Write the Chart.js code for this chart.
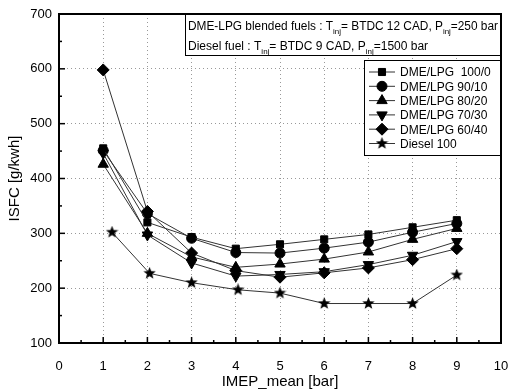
<!DOCTYPE html>
<html>
<head>
<meta charset="utf-8">
<script src="https://cdn.jsdelivr.net/npm/chart.js@4.4.1/dist/chart.umd.min.js"></script>
<style>
  html,body{margin:0;padding:0;background:#fff;}
  #wrap{width:508px;height:391px;position:relative;}
</style>
</head>
<body>
<div id="wrap"><canvas id="c"></canvas></div>
<script>
// values
const xDme = [1, 2, 3, 4, 5, 6, 7, 8, 9]
const xDiesel = [1.2, 2.05, 3, 4.05, 5, 6, 7, 8, 9]
const dme100 = [455, 320, 293, 272, 280, 289, 298, 311, 324]
const dme90 = [451, 336, 291, 265, 264, 273, 284, 302, 318]
const dme80 = [426, 300, 257, 238, 244, 253, 266, 289, 309]
const dme70 = [446, 297, 246, 222, 225, 230, 243, 260, 285]
const dme60 = [598, 340, 264, 232, 220, 228, 237, 252, 272]
const diesel100 = [302, 227, 210, 197, 191, 172, 172, 172, 224]
const xTicks = [0, 1, 2, 3, 4, 5, 6, 7, 8, 9, 10]
const yTicks = [100, 200, 300, 400, 500, 600, 700]

const FONT = '"Liberation Sans", Arial, sans-serif'

function starCanvas(size){
  const cv=document.createElement('canvas')
  cv.width=size;cv.height=size
  const g=cv.getContext('2d')
  const cx=size/2, cy=size/2, R=size/2, r=R*0.42
  g.beginPath()
  for(let i=0;i<10;i++){
    const a=-Math.PI/2+i*Math.PI/5
    const rr=i%2?r:R
    g.lineTo(cx+rr*Math.cos(a),cy+rr*Math.sin(a))
  }
  g.closePath()
  g.fillStyle='#000'
  g.fill()
  return cv
}
const star=starCanvas(13)

function series(label,xs,ys,style,extras={}){
  return {
    label,
    data: xs.map((x,i)=>({x, y: ys[i]})),
    borderColor:'#333',
    borderWidth:1,
    backgroundColor:'#000',
    pointBackgroundColor:'#000',
    pointBorderColor:'#000',
    pointStyle:style,
    pointRadius:5,
    tension:0,
    ...extras
  }
}

const datasets=[
  series('DME/LPG  100/0', xDme, dme100, 'rect', {pointRadius:5}),
  series('DME/LPG 90/10', xDme, dme90, 'circle'),
  series('DME/LPG 80/20', xDme, dme80, 'triangle', {pointRadius:6}),
  series('DME/LPG 70/30', xDme, dme70, 'triangle', {pointRadius:6, pointRotation:180}),
  series('DME/LPG 60/40', xDme, dme60, 'rectRot', {pointRadius:6}),
  series('Diesel 100', xDiesel, diesel100, star)
]

// ticks inward, frame, info box and legend
const decor={
  id:'decor',
  afterDraw(chart){
    const ctx=chart.ctx, a=chart.chartArea
    const xs=chart.scales.x, ys=chart.scales.y
    ctx.save()
    ctx.strokeStyle='#000'
    ctx.lineWidth=1.5
    for(let v=0; v<=10; v+=0.5){
      const px=xs.getPixelForValue(v)
      const len=(v%1===0)?6:3
      ctx.beginPath();ctx.moveTo(px,a.bottom);ctx.lineTo(px,a.bottom-len);ctx.stroke()
    }
    for(let v=100; v<=700; v+=50){
      const py=ys.getPixelForValue(v)
      const len=(v%100===0)?6:3
      ctx.beginPath();ctx.moveTo(a.left,py);ctx.lineTo(a.left+len,py);ctx.stroke()
    }
    ctx.lineWidth=2
    ctx.strokeRect(a.left,a.top,a.right-a.left,a.bottom-a.top)

    // info box
    const bx=185, by=a.top, bw=a.right-bx, bh=41
    ctx.fillStyle='#fff'
    ctx.fillRect(bx,by,bw,bh)
    ctx.lineWidth=1
    ctx.strokeRect(bx+0.5,by+0.5,bw-1,bh)
    ctx.fillStyle='#000'
    ctx.textBaseline='alphabetic'
    drawRich(ctx,[['DME-LPG blended fuels : T',0],['inj',1],['= BTDC 12 CAD, P',0],['inj',1],['=250 bar',0]],bx+3,by+16,bw-6)
    drawRich(ctx,[['Diesel fuel : T',0],['inj',1],['= BTDC 9 CAD, P',0],['inj',1],['=1500 bar',0]],bx+3,by+36,0)

    // legend
    const lx=364, ly=60, lw=a.right-lx-1, lh=95
    ctx.fillStyle='#fff'
    ctx.fillRect(lx,ly,lw,lh)
    ctx.lineWidth=1
    ctx.strokeStyle='#000'
    ctx.strokeRect(lx+0.5,ly+0.5,lw,lh)
    chart.data.datasets.forEach((ds,i)=>{
      const yy=ly+12+i*14.3
      ctx.strokeStyle='#333'
      ctx.lineWidth=1
      ctx.beginPath();ctx.moveTo(lx+5,yy);ctx.lineTo(lx+31,yy);ctx.stroke()
      const el=chart.getDatasetMeta(i).data[0]
      const o=el.options
      ctx.fillStyle='#000'
      ctx.strokeStyle='#000'
      Chart.helpers.drawPoint(ctx,{pointStyle:o.pointStyle,rotation:o.rotation,radius:o.radius,borderWidth:1},lx+18,yy)
      ctx.fillStyle='#000'
      ctx.font='12px '+FONT
      ctx.textBaseline='middle'
      ctx.fillText(ds.label,lx+36,yy+1)
    })
    ctx.restore()
  }
}

// text with "inj" subscripts; squeezes horizontally if a width is given
function drawRich(ctx,parts,x,y,maxW){
  const fontOf=sub=>(sub?'8px ':'12px ')+FONT
  let total=0
  parts.forEach(([t,sub])=>{ctx.font=fontOf(sub);total+=ctx.measureText(t).width})
  const k=(maxW&&total>maxW)?maxW/total:1
  ctx.save()
  ctx.translate(x,y)
  ctx.scale(k,1)
  let cx=0
  parts.forEach(([t,sub])=>{
    ctx.font=fontOf(sub)
    ctx.fillText(t,cx,sub?4:0)
    cx+=ctx.measureText(t).width
  })
  ctx.restore()
}

new Chart(document.getElementById('c'),{
  type:'line',
  data:{datasets},
  plugins:[decor],
  options:{
    responsive:true,
    maintainAspectRatio:false,
    animation:false,
    layout:{padding:{top:14,right:7,left:0,bottom:0}},
    plugins:{legend:{display:false},tooltip:{enabled:false}},
    elements:{line:{borderJoinStyle:'miter'}},
    scales:{
      x:{
        type:'linear',min:0,max:10,
        afterBuildTicks(s){s.ticks=xTicks.map(v=>({value:v}))},
        afterFit(s){s.height=48;s.paddingLeft=0;s.paddingRight=0},
        grid:{color:'#999',lineWidth:1,drawTicks:false},
        border:{display:false,dash:[1,3]},
        ticks:{color:'#000',font:{family:FONT,size:13},padding:16,maxRotation:0},
        title:{display:true,text:'IMEP_mean [bar]',color:'#000',font:{family:FONT,size:15},padding:{top:2,bottom:0}}
      },
      y:{
        type:'linear',min:100,max:700,
        afterBuildTicks(s){s.ticks=yTicks.map(v=>({value:v}))},
        afterFit(s){s.width=59;s.paddingTop=0;s.paddingBottom=0},
        grid:{color:'#999',lineWidth:1,drawTicks:false},
        border:{display:false,dash:[1,3]},
        ticks:{color:'#000',font:{family:FONT,size:13},padding:7},
        title:{display:true,text:'ISFC [g/kwh]',color:'#000',font:{family:FONT,size:15},padding:{top:6,bottom:0}}
      }
    }
  }
})
</script>
</body>
</html>
